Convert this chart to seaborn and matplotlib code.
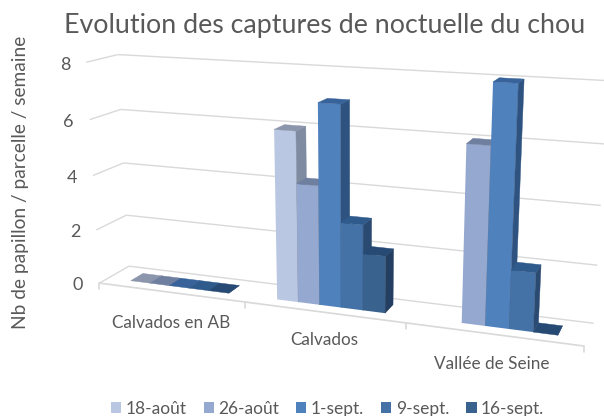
#!/usr/bin/env python3
"""Evolution des captures de noctuelle du chou - 3D style bars with seaborn"""

import numpy as np
import pandas as pd
import matplotlib
matplotlib.use('Agg')
import matplotlib.pyplot as plt
from matplotlib.patches import Patch, Polygon
from matplotlib.transforms import IdentityTransform, Transform
import seaborn as sns

# Data
sites = ['Calvados en AB', 'Calvados', 'Vallée de Seine']
dates = ['18-août', '26-août', '1-sept.', '9-sept.', '16-sept.']
calvados_ab = [0, 0, 0, 0, 0]
calvados = [6, 4.2, 7, 3, 2]
vallee_seine = [np.nan, 6, 8, 2, 0]
y_ticks = [0, 2, 4, 6, 8]

# Face colours
front_colors = ['#B9C7E2', '#94A8D0', '#4F81BD', '#4472A6', '#3A628F']
top_colors = ['#8B95AB', '#6F7F9F', '#38639A', '#2F5A8C', '#264A74']
side_colors = ['#7F8BA0', '#66748F', '#2F5380', '#2A4A72', '#233E60']

GRID = '#D9D9D9'
TEXT = '#595959'
W, H = 604, 416
DEPTH_FRONT, DEPTH_BACK = 0.3, 0.72

# Box corners: (x, value, depth) -> pixel in the picture, used to fit the perspective
anchors = [
    ((-0.5, 0, 0), (100, 283)), ((0.5, 0, 0), (245, 303)), ((1.5, 0, 0), (406, 323)),
    ((2.5, 0, 0), (584, 346)), ((-0.5, 4, 0), (93, 175)), ((-0.5, 8, 0), (86, 62)),
    ((-0.5, 0, 1), (129, 266)), ((-0.5, 4, 1), (123, 163)), ((-0.5, 8, 1), (118, 55)),
    ((2.5, 0, 1), (594, 323)), ((2.5, 4, 1), (601, 205)), ((2.5, 8, 1), (608, 81)),
]


def fit_projection():
    rows, rhs = [], []
    for (x, v, d), (px, py) in anchors:
        rows.append([x, v, d, 1, 0, 0, 0, 0, -px * x, -px * v, -px * d])
        rows.append([0, 0, 0, 0, x, v, d, 1, -py * x, -py * v, -py * d])
        rhs += [px, py]
    coef = np.linalg.lstsq(np.array(rows, float), np.array(rhs, float), rcond=None)[0]
    return np.append(coef, 1).reshape(3, 4)


P = fit_projection()


def project(pts):
    pts = np.atleast_2d(np.asarray(pts, float))
    hom = np.column_stack([pts, np.ones(len(pts))]) @ P.T
    out = hom[:, :2] / hom[:, 2:]
    out[:, 1] = H - out[:, 1]  # picture y goes down, display y goes up
    return out


class PlaneTransform(Transform):
    """Puts (x, value) data on the vertical plane at a given depth."""
    input_dims = 2
    output_dims = 2

    def __init__(self, plane_depth):
        super().__init__()
        self.plane_depth = plane_depth

    def transform_non_affine(self, values):
        values = np.asarray(values, float)
        return project(np.column_stack([values, np.full(len(values), self.plane_depth)]))


def face(ax, pts, color, z):
    ax.add_patch(Polygon(project(pts), closed=True, facecolor=color, edgecolor=color,
                         linewidth=0.3, transform=IdentityTransform(), zorder=z, clip_on=False))


def line(ax, a, b, **kw):
    xy = project([a, b])
    ax.plot(xy[:, 0], xy[:, 1], color=GRID, transform=IdentityTransform(), clip_on=False,
            solid_capstyle='butt', zorder=1, **kw)


def fit_text(fig, txt, length):
    # scale the font so the text runs over the wanted number of pixels
    box = txt.get_window_extent(fig.canvas.get_renderer())
    txt.set_fontsize(txt.get_fontsize() * length / max(box.width, box.height))


def main():
    sns.set_theme(style='white')
    plt.rcParams['font.family'] = ['Lato', 'DejaVu Sans']

    df = pd.DataFrame({
        'site': np.repeat(sites, len(dates)),
        'date': dates * len(sites),
        'value': calvados_ab + calvados + vallee_seine,
    })

    fig = plt.figure(figsize=(W / 100, H / 100), dpi=100, facecolor='white')
    ax = fig.add_axes([0, 0, 1, 1])
    sns.barplot(data=df, x='site', y='value', hue='date', order=sites, hue_order=dates,
                palette=front_colors, saturation=1, width=0.68, errorbar=None, legend=False, ax=ax)
    ax.set_xlim(-0.5, 2.5)
    ax.set_ylim(0, 8)
    ax.set_axis_off()

    # Walls and floor
    for v in y_ticks:
        line(ax, (-0.5, v, 0), (-0.5, v, 1), linewidth=1)
        line(ax, (-0.5, v, 1), (2.5, v, 1), linewidth=1)
    line(ax, (-0.5, 0, 0), (2.5, 0, 0), linewidth=1.2)
    for x in np.arange(-0.5, 3):
        a = project([(x, 0, 0)])[0]
        ax.plot([a[0], a[0]], [a[1], a[1] - 6], color=GRID, linewidth=1.2,
                transform=IdentityTransform(), clip_on=False, zorder=1)

    # Bars: seaborn gives the front rectangles, the other faces are added from them
    front_plane = PlaneTransform(DEPTH_FRONT)
    bars = []
    for i, container in enumerate(ax.containers):
        for rect in container:
            bars.append((rect.get_x(), i, rect))
    z = 2
    for x0, i, rect in sorted(bars, key=lambda b: b[0]):
        h = rect.get_height()
        if np.isnan(h):
            continue
        x1 = x0 + rect.get_width()
        rect.set_transform(front_plane)
        rect.set_clip_on(False)
        rect.set_linewidth(0)
        rect.set_zorder(z)
        face(ax, [(x1, 0, DEPTH_FRONT), (x1, h, DEPTH_FRONT), (x1, h, DEPTH_BACK), (x1, 0, DEPTH_BACK)],
             side_colors[i], z + 0.1)
        face(ax, [(x0, h, DEPTH_FRONT), (x1, h, DEPTH_FRONT), (x1, h, DEPTH_BACK), (x0, h, DEPTH_BACK)],
             top_colors[i], z + 0.2)
        z += 1

    # Text
    title = fig.text(324.5 / W, 1 - 25 / H, 'Evolution des captures de noctuelle du chou', color=TEXT,
                     fontsize=19.3, ha='center', va='center')
    fit_text(fig, title, 521)
    ylab = fig.text(21 / W, 1 - 182.5 / H, 'Nb de papillon / parcelle / semaine', color=TEXT,
                    fontsize=15, rotation=90, ha='center', va='center')
    fit_text(fig, ylab, 293)
    for v, (px, py) in zip(y_ticks, [(78, 285), (75, 232), (72, 178), (68, 122), (65, 65)]):
        fig.text(px / W, 1 - py / H, str(v), color=TEXT, fontsize=13, ha='center', va='center')
    for name, (px, py) in zip(sites, [(171, 323), (324, 340), (492, 364)]):
        fig.text(px / W, 1 - py / H, name, color=TEXT, fontsize=12.3, ha='center', va='center')

    handles = [Patch(facecolor=c, edgecolor='none', label=d) for c, d in zip(front_colors, dates)]
    fig.legend(handles=handles, ncol=5, frameon=False, fontsize=12.5, labelcolor=TEXT,
               loc='center', bbox_to_anchor=(327.5 / W, 1 - 409 / H), handlelength=0.58, handleheight=0.58,
               handletextpad=0.25, columnspacing=1.0, borderpad=0)

    fig.savefig('out.png', dpi=100, facecolor='white')
    plt.close(fig)


if __name__ == "__main__":
    main()
